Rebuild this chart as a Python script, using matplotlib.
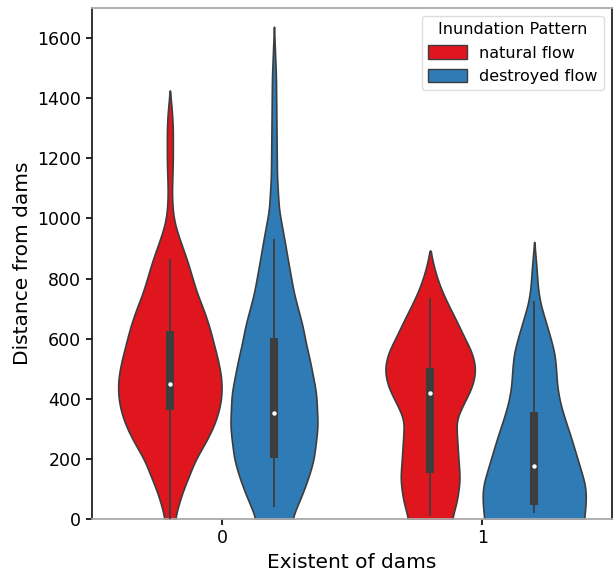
import matplotlib
matplotlib.use("Agg")
import matplotlib.pyplot as plt
from matplotlib.patches import Patch
import numpy as np

# ---- data ----
groups = ["0", "1"]
hues = ["natural flow", "destroyed flow"]
colors = ["#e0161f", "#2e7bb6"]

# density profiles (y value, relative half-width)
red0_y = [0, 41, 85, 140, 196, 252, 306, 362, 417, 472, 528, 583, 638, 694, 749, 804, 860, 915, 970, 1015, 1081, 1192, 1302, 1358, 1424]
red0_w = [5, 8.3, 12.3, 19, 25.7, 35.7, 44, 49.7, 52.3, 51.7, 48.3, 44, 39.7, 34, 27.3, 22.3, 17.3, 11.3, 5.7, 3, 2, 3, 3, 2, 0]
blue0_y = [0, 85, 140, 196, 306, 417, 528, 583, 638, 749, 860, 937, 1026, 1137, 1302, 1468, 1637]
blue0_w = [18, 29, 35, 40, 44, 42.5, 36, 32, 29, 20, 14, 10, 5, 3, 2.5, 2, 0]
red1_y = [0, 52, 129, 218, 273, 329, 384, 439, 495, 550, 605, 661, 716, 771, 827, 893]
red1_w = [21.7, 26.7, 30, 28, 27, 26, 34, 42.5, 46, 42.5, 34, 26, 17.5, 10, 4.5, 0]
blue1_y = [0, 52, 107, 163, 218, 273, 329, 384, 439, 495, 550, 605, 661, 716, 771, 827, 921]
blue1_w = [50, 52, 51.7, 46.7, 41.7, 36.7, 31, 26, 23, 22, 20.5, 16, 11, 6, 3.5, 2.5, 0]

# box stats: q1, median, q3, whisker low, whisker high
red0_box = [362, 448, 624, 0, 866]
blue0_box = [202, 352, 604, 40, 933]
red1_box = [153, 418, 501, 10, 737]
blue1_box = [46, 176, 355, 20, 727]

profiles = [(red0_y, red0_w, red0_box), (blue0_y, blue0_w, blue0_box),
            (red1_y, red1_w, red1_box), (blue1_y, blue1_w, blue1_box)]


def smooth_outline(yy, ww, step=4.0, sigma=22.0):
    """Smooth the drawn outline through the read profile points (rendering only)."""
    yy = np.asarray(yy, float)
    ww = np.asarray(ww, float)
    pad = 3 * sigma
    grid = np.arange(yy[0] - pad, yy[-1] + step, step)
    w = np.interp(grid, yy, ww, left=ww[0], right=0.0)
    k = np.arange(-3 * sigma, 3 * sigma + step, step)
    kern = np.exp(-0.5 * (k / sigma) ** 2)
    kern /= kern.sum()
    ws = np.convolve(np.pad(w, len(k) // 2, mode="edge"), kern, mode="valid")[:len(grid)]
    # keep the tip where it was read
    ws = np.where(grid >= yy[-1], 0.0, ws)
    return grid, ws


fig = plt.figure(figsize=(6.16, 5.78), dpi=100)
ax = fig.add_axes([0.149, 0.102, 0.845, 0.884])

gmax = max(max(p[1]) for p in profiles)
positions = [0 - 0.2, 0 + 0.2, 1 - 0.2, 1 + 0.2]
edge = "#3d3d3d"

for i, (yy, ww, box) in enumerate(profiles):
    gy, gw = smooth_outline(yy, ww)
    vp = dict(coords=gy, vals=gw,
              mean=box[1], median=box[1], min=gy[0], max=gy[-1])
    width = 0.4 * gw.max() / gmax
    parts = ax.violin([vp], positions=[positions[i]], widths=[width],
                      showmeans=False, showextrema=False, showmedians=False)
    for b in parts["bodies"]:
        b.set_facecolor(colors[i % 2])
        b.set_edgecolor(edge)
        b.set_linewidth(1.2)
        b.set_alpha(1)
    q1, med, q3, lo, hi = box
    x = positions[i]
    ax.plot([x, x], [lo, hi], color=edge, lw=1.3, solid_capstyle="butt", zorder=3)
    ax.plot([x, x], [q1, q3], color=edge, lw=5.8, solid_capstyle="butt", zorder=4)
    ax.plot([x], [med], "o", color="white", ms=3.2, mec="none", zorder=5)

ax.set_xlim(-0.5, 1.5)
ax.set_ylim(0, 1700)
ax.set_xticks([0, 1])
ax.set_xticklabels(groups)
ax.set_yticks(range(0, 1601, 200))
ax.tick_params(labelsize=12.5, length=4, width=1.2)
ax.set_xlabel("Existent of dams", fontsize=14.5)
ax.set_ylabel("Distance from dams", fontsize=14.5)
for s in ["left", "right"]:
    ax.spines[s].set_color("#222222")
    ax.spines[s].set_linewidth(1.3)
for s in ["top", "bottom"]:
    ax.spines[s].set_color("#aaaaaa")
    ax.spines[s].set_linewidth(1.3)

handles = [Patch(facecolor=colors[j], edgecolor=edge, linewidth=1.0, label=hues[j]) for j in range(2)]
leg = ax.legend(handles=handles, title="Inundation Pattern", loc="upper right",
                fontsize=11.5, title_fontsize=11.5, handlelength=2.4, handleheight=0.9,
                borderaxespad=0.5, framealpha=1)
leg.get_frame().set_edgecolor("#dddddd")

fig.savefig("out.png", dpi=100)
